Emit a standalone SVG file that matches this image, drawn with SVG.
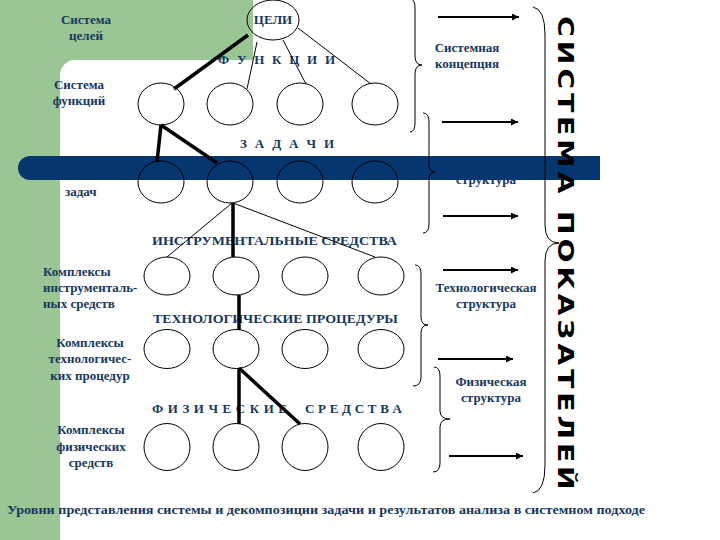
<svg xmlns="http://www.w3.org/2000/svg" width="720" height="540" viewBox="0 0 720 540">
<style>
text.t{font-family:'Liberation Serif','DejaVu Serif','Times New Roman',serif;font-weight:bold;font-size:13px;fill:#17375e}
text.c{text-anchor:middle}
.n{fill:none;stroke:#000;stroke-width:1}
.thin{stroke:#000;stroke-width:1;fill:none}
.thick{stroke:#000;stroke-width:3.5;fill:none}
.br{stroke:#000;stroke-width:1;fill:none}
.ar{stroke:#000;stroke-width:2;fill:none}
</style>
<defs>
<marker id="ah" viewBox="0 0 10 10" refX="10" refY="5" markerWidth="9" markerHeight="7" orient="auto" markerUnits="userSpaceOnUse"><path d="M0,0 L10,5 L0,10 z" fill="#000"/></marker>
</defs>
<rect width="720" height="540" fill="#fff"/>
<path id="bg-green" d="M0,0 H253 V60 H75 A15,15 0 0 0 60,75 V540 H0 Z" fill="#9ac595"/>
<text class="t c" x="486" y="184">структура</text>
<path id="band" d="M30,156 H600 V180 H30 A12,12 0 0 1 30,156 Z" fill="#053670"/>

<g id="labels">
<text class="t c" x="86" y="24">Система</text>
<text class="t c" x="86" y="40">целей</text>
<text class="t c" x="79" y="89">Система</text>
<text class="t c" x="79" y="105">функций</text>
<text class="t" x="65" y="196">задач</text>
<text class="t" x="43" y="276">Комплексы</text>
<text class="t" x="43" y="292">инструменталь-</text>
<text class="t" x="43" y="308">ных средств</text>
<text class="t c" x="90" y="347">Комплексы</text>
<text class="t c" x="90" y="363">технологичес-</text>
<text class="t c" x="90" y="380">ких процедур</text>
<text class="t c" x="91" y="434">Комплексы</text>
<text class="t c" x="91" y="451">физических</text>
<text class="t c" x="91" y="467">средств</text>
<text class="t" x="218" y="64" textLength="117" lengthAdjust="spacing">Ф У Н К Ц И И</text>
<text class="t" x="240" y="148" textLength="94" lengthAdjust="spacing">З А Д А Ч И</text>
<text class="t" x="152" y="245" textLength="245" lengthAdjust="spacingAndGlyphs">ИНСТРУМЕНТАЛЬНЫЕ СРЕДСТВА</text>
<text class="t" x="153" y="323" textLength="245" lengthAdjust="spacingAndGlyphs">ТЕХНОЛОГИЧЕСКИЕ ПРОЦЕДУРЫ</text>
<text class="t" x="152" y="413" textLength="135" lengthAdjust="spacing">Ф И З И Ч Е С К И Е</text>
<text class="t" x="305" y="413" textLength="97" lengthAdjust="spacing">С Р Е Д С Т В А</text>
<text class="t c" x="467" y="52">Системная</text>
<text class="t c" x="467" y="68">концепция</text>
<text class="t c" x="486" y="292">Технологическая</text>
<text class="t c" x="486" y="308">структура</text>
<text class="t c" x="491" y="386">Физическая</text>
<text class="t c" x="491" y="402">структура</text>
<text class="t" x="7" y="514" textLength="638" lengthAdjust="spacingAndGlyphs">Уровни представления системы и декомпозиции задачи и результатов анализа в системном подходе</text>
<text transform="translate(558,16) rotate(90) scale(1.35,1)" font-family="'DejaVu Sans',sans-serif" font-weight="bold" font-size="21" fill="#000" textLength="351" lengthAdjust="spacing">СИСТЕМА ПОКАЗАТЕЛЕЙ</text>
</g>

<g id="goal"><ellipse class="n" cx="273" cy="20" rx="26" ry="20"/><text class="t c" x="273" y="24">ЦЕЛИ</text></g>

<g id="f1"><ellipse class="n" cx="161" cy="104" rx="23" ry="21"/></g>
<g id="f2"><ellipse class="n" cx="230" cy="104" rx="23" ry="21"/></g>
<g id="f3"><ellipse class="n" cx="300" cy="104" rx="23" ry="21"/></g>
<g id="f4"><ellipse class="n" cx="375" cy="104" rx="23" ry="21"/></g>

<g id="z1"><ellipse class="n" cx="161" cy="182" rx="23" ry="21"/></g>
<g id="z2"><ellipse class="n" cx="230" cy="182" rx="23" ry="21"/></g>
<g id="z3"><ellipse class="n" cx="300" cy="182" rx="23" ry="21"/></g>
<g id="z4"><ellipse class="n" cx="375" cy="182" rx="23" ry="21"/></g>

<g id="i1"><ellipse class="n" cx="167" cy="276" rx="23" ry="19"/></g>
<g id="i2"><ellipse class="n" cx="236" cy="276" rx="23" ry="19"/></g>
<g id="i3"><ellipse class="n" cx="305" cy="276" rx="23" ry="19"/></g>
<g id="i4"><ellipse class="n" cx="381" cy="276" rx="23" ry="19"/></g>

<g id="p1"><ellipse class="n" cx="167" cy="349" rx="23" ry="19.5"/></g>
<g id="p2"><ellipse class="n" cx="236" cy="349" rx="23" ry="19.5"/></g>
<g id="p3"><ellipse class="n" cx="305" cy="349" rx="23" ry="19.5"/></g>
<g id="p4"><ellipse class="n" cx="381" cy="349" rx="23" ry="19.5"/></g>

<g id="s1"><ellipse class="n" cx="167" cy="447" rx="23" ry="23.5"/></g>
<g id="s2"><ellipse class="n" cx="236" cy="447" rx="23" ry="23.5"/></g>
<g id="s3"><ellipse class="n" cx="305" cy="447" rx="23" ry="23.5"/></g>
<g id="s4"><ellipse class="n" cx="381" cy="447" rx="23" ry="23.5"/></g>

<g id="connectors">
<line class="thick" x1="248" y1="35" x2="174" y2="89"/>
<line class="thin" x1="257" y1="42" x2="247" y2="89"/>
<line class="thin" x1="283" y1="40" x2="306" y2="84"/>
<line class="thin" x1="298" y1="28" x2="371" y2="84"/>
<line class="thick" x1="161" y1="125" x2="157" y2="162"/>
<line class="thick" x1="161" y1="125" x2="217" y2="163"/>
<line class="thin" x1="232" y1="203" x2="167" y2="257"/>
<line class="thick" x1="233" y1="203" x2="233" y2="257"/>
<line class="thin" x1="233" y1="203" x2="375" y2="257"/>
<line class="thick" x1="239" y1="295" x2="239" y2="330"/>
<line class="thick" x1="239" y1="368" x2="239" y2="424"/>
<line class="thick" x1="239" y1="368" x2="300" y2="424"/>
</g>

<g id="braces">
<path class="br" d="M410,-1 Q415,-1 415,8 V56 Q415,65 422,65 Q415,65 415,74 V123 Q415,132 410,132"/>
<path class="br" d="M423,113 Q429,113 429,122 V164 Q429,172 435,172 Q429,172 429,180 V224 Q429,233 423,233"/>
<path class="br" d="M415,265 Q421,265 421,274 V317 Q421,325 428,325 Q421,325 421,333 V377 Q421,386 413,386"/>
<path class="br" d="M434,367 Q440,367 440,376 V411 Q440,419 450,419 Q440,419 440,427 V463 Q440,472 433,472"/>
<path class="br" d="M533,7 Q545,9 545,35 V225 Q545,243 559,243 Q545,243 545,261 V465 Q545,491 533,493"/>
</g>

<g id="arrows">
<line class="ar" x1="438" y1="17" x2="519" y2="17" marker-end="url(#ah)"/>
<line class="ar" x1="442" y1="122" x2="518" y2="122" marker-end="url(#ah)"/>
<line class="ar" x1="443" y1="216" x2="518" y2="216" marker-end="url(#ah)"/>
<line class="ar" x1="443" y1="270" x2="518" y2="270" marker-end="url(#ah)"/>
<line class="ar" x1="438" y1="359" x2="513" y2="359" marker-end="url(#ah)"/>
<line class="ar" x1="449" y1="456" x2="523" y2="456" marker-end="url(#ah)"/>
</g>
</svg>
